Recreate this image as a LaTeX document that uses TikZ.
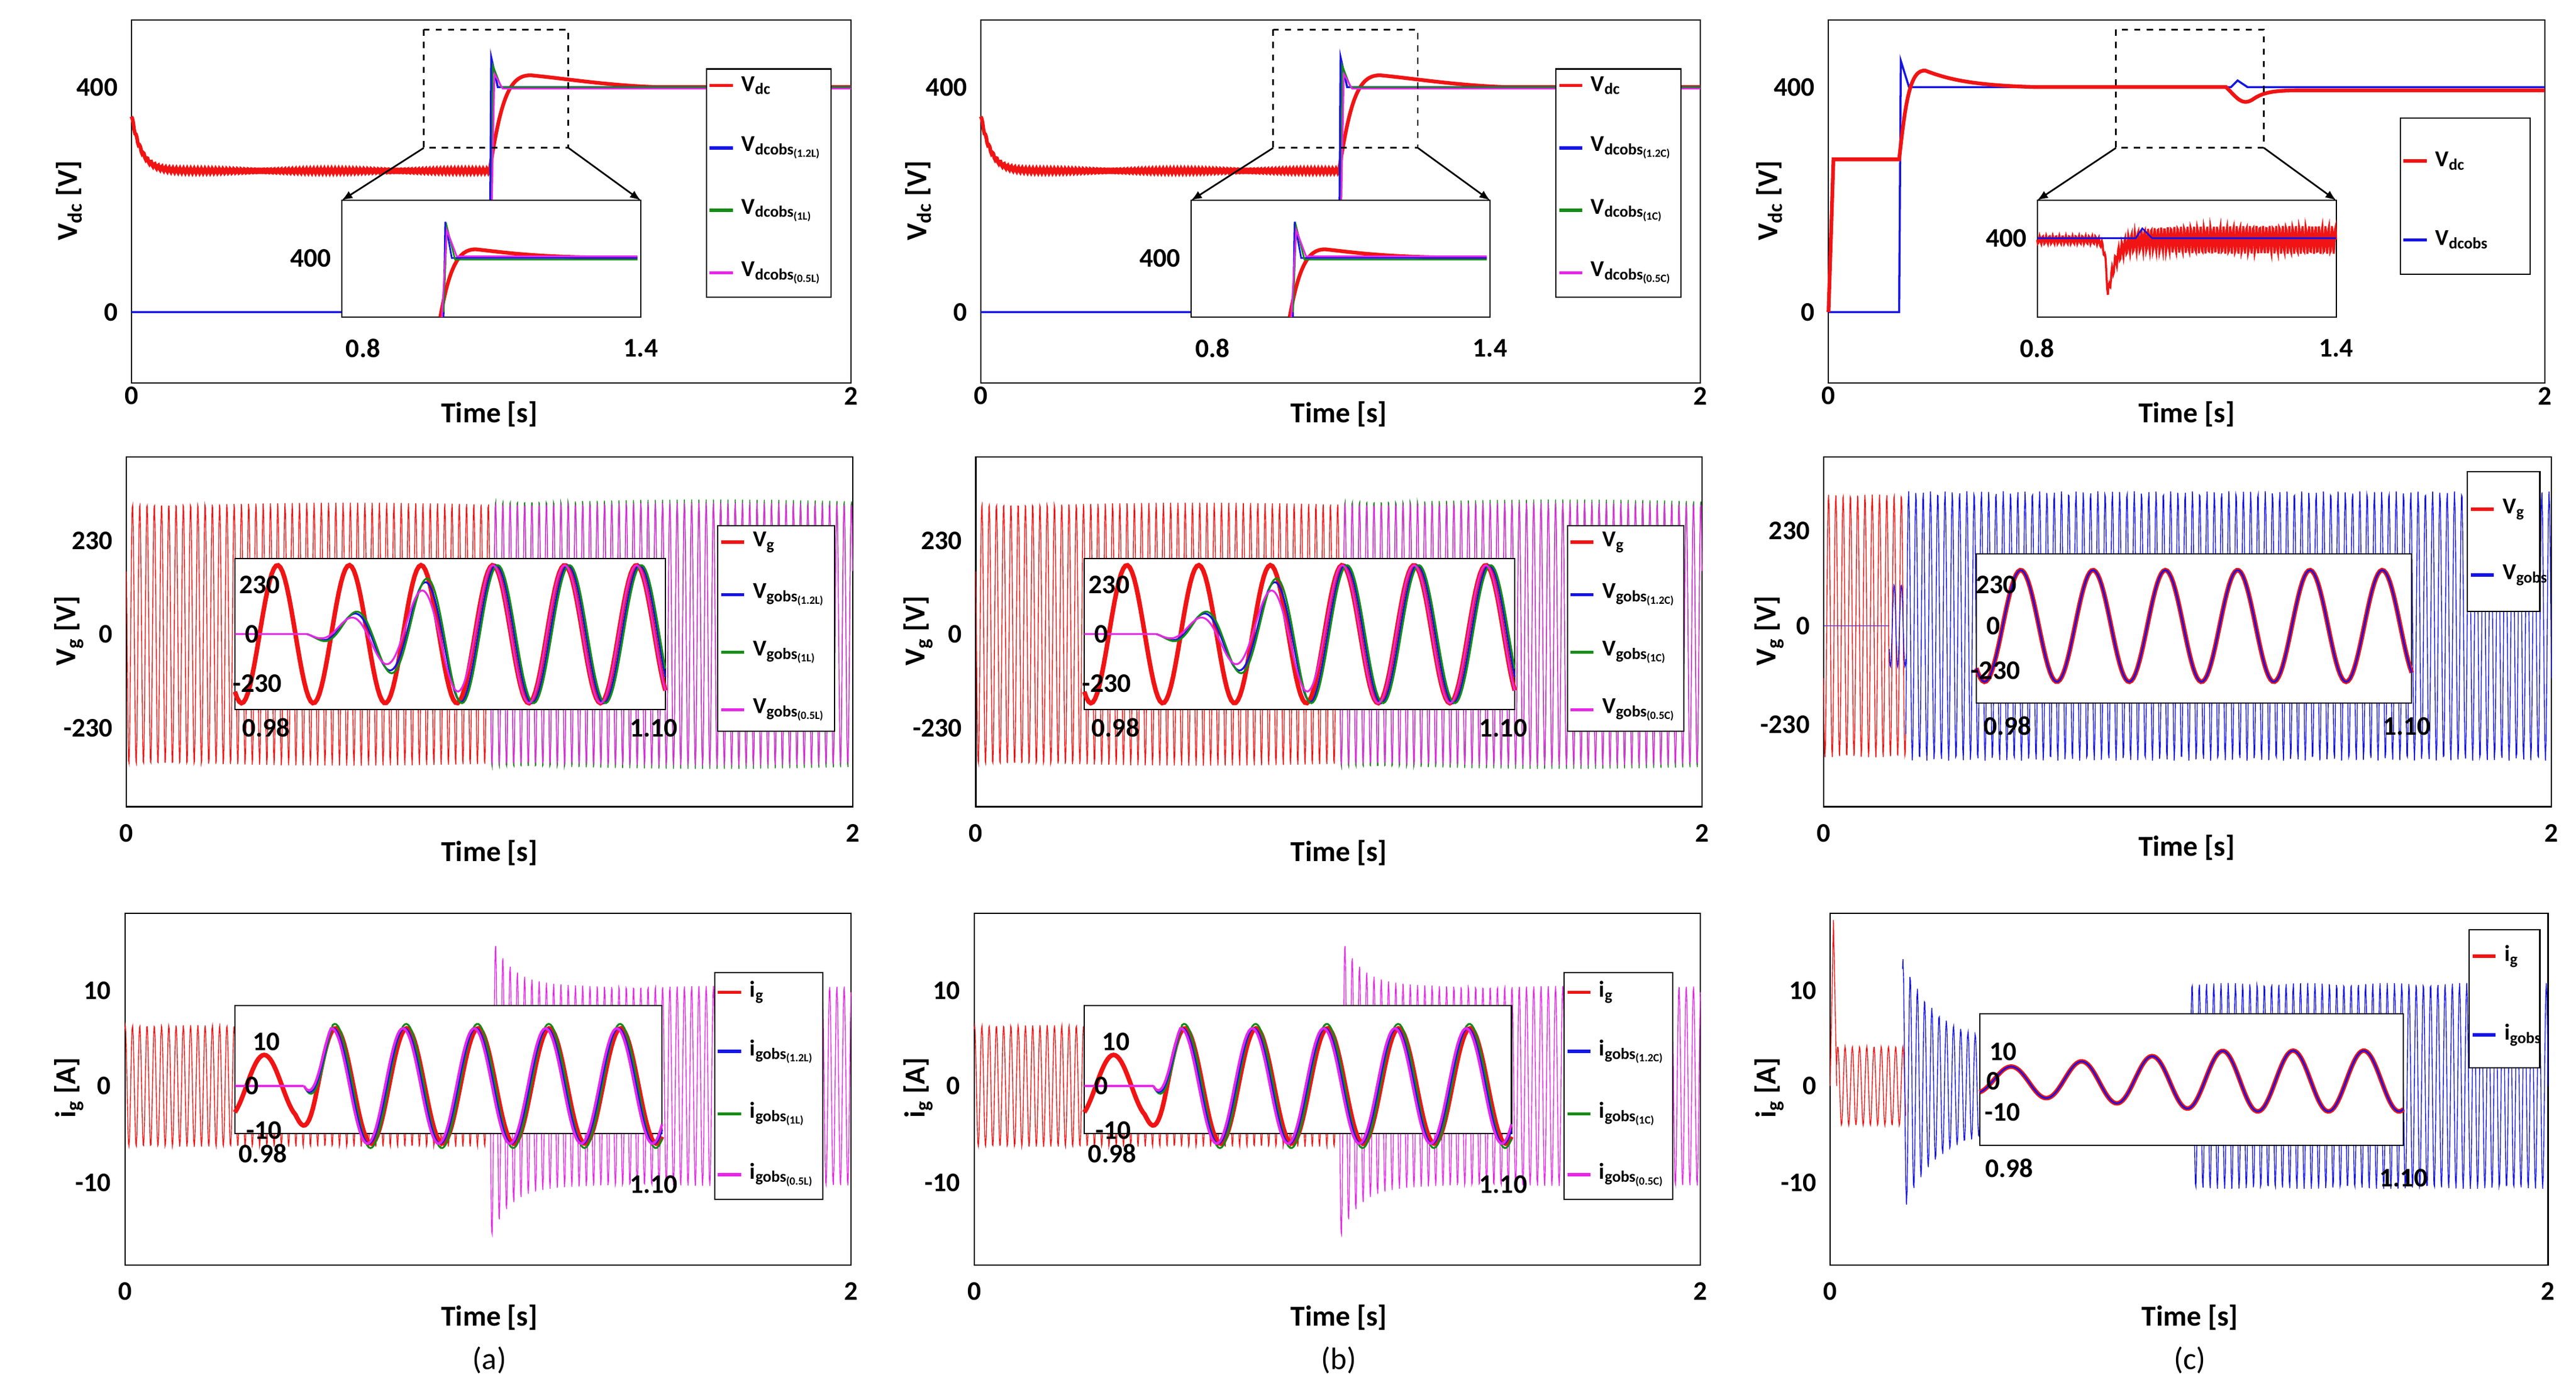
\documentclass[tikz,border=0pt]{standalone}
\usepackage{fontspec}
\setmainfont{Carlito}
\definecolor{mg}{RGB}{230,40,230}
\definecolor{gr}{RGB}{20,140,20}
\definecolor{bl}{RGB}{20,20,230}
\definecolor{rd}{RGB}{240,20,20}
\tikzset{ax/.style={draw=black,line width=0.6pt},
 lg/.style={draw=black,fill=white,line width=0.6pt},
 lab/.style={font=\fontsize{14}{16}\selectfont\bfseries},
 tk/.style={font=\fontsize{13}{15}\selectfont\bfseries},
 sm/.style={font=\fontsize{11}{13}\selectfont\bfseries,anchor=west},
 dz/.style={dashed,line width=0.8pt}}
\newcommand\lent[4]{% x y color text
 \draw[#3,line width=1.6pt] (#1,#2) -- ++(14,0);
 \node[sm] at (#1+15,#2) {#4};}
\newcommand\colab[3]{%
\begin{scope}[shift={(#1,0)}]
% ---------- row 1
\draw[ax] (80,12) rectangle (518,233);
\draw[rd,line width=1.8pt] plot[domain=80:298,samples=400] (\x,{104-34*exp(-(\x-80)/6)+1.2*sin(163.6*mod(\x,2.2))});
\draw[rd,line width=1.8pt] (298,104) .. controls (305,60) and (310,44) .. (325,46) .. controls (345,48) and (370,52) .. (400,53) -- (518,53);
\draw[bl,line width=1pt] (80,190) -- (298,190) -- (299,35) -- (303,53) -- (518,53);
\draw[gr,line width=0.8pt] (299,190) -- (300,40) -- (305,53) -- (518,53);
\draw[mg,line width=0.8pt] (298,190) -- (301,45) -- (306,54) -- (518,54);
\node[tk,anchor=east] at (76,53) {400};
\node[tk,anchor=east] at (76,190) {0};
\node[lab,rotate=90] at (42,122) {V\textsubscript{dc} [V]};
\draw[dz] (258,18) rectangle (346,90);
\draw[ax,fill=white] (208,122) rectangle (390,193);
\draw[-latex,line width=0.8pt] (258,90) -- (208,122);
\draw[-latex,line width=0.8pt] (346,90) -- (390,122);
\draw[rd,line width=1.8pt] (268,193) .. controls (274,160) and (280,150) .. (292,152) .. controls (310,154) and (330,157) .. (388,157);
\draw[bl,line width=0.8pt] (270,193) -- (271,135) -- (275,157) -- (388,157);
\draw[gr,line width=0.8pt] (270,190) -- (272,138) -- (277,158) -- (388,158);
\draw[mg,line width=0.8pt] (269,193) -- (272,140) -- (278,156) -- (388,156);
\node[tk,anchor=east] at (206,157) {400};
\node[tk] at (221,212) {0.8};\node[tk] at (390,212) {1.4};
\node[tk] at (80,241) {0};\node[tk] at (518,241) {2};
\node[lab] at (298,252) {Time [s]};
\draw[lg] (430,42) rectangle (506,181);
\lent{432}{52}{rd}{V\textsubscript{dc}}
\lent{432}{90}{bl}{V\textsubscript{dcobs\textsubscript{(1.2#2)}}}
\lent{432}{128}{gr}{V\textsubscript{dcobs\textsubscript{(1#2)}}}
\lent{432}{166}{mg}{V\textsubscript{dcobs\textsubscript{(0.5#2)}}}
% ---------- row 2
\draw[ax] (77,278) rectangle (519,491);
\draw[rd,line width=0.4pt] plot[domain=77:298,samples=700] (\x,{386-80*sin(81.45*mod(\x,4.42))});
\draw[gr,line width=0.4pt] plot[domain=298:519,samples=700] (\x,{386-82*sin(81.45*mod(\x,4.42))});
\draw[mg,line width=0.4pt] plot[domain=298:519,samples=700] (\x,{386-80*sin(81.45*mod(\x,4.42))});
\node[tk,anchor=east] at (73,329) {230};
\node[tk,anchor=east] at (73,386) {0};
\node[tk,anchor=east] at (73,443) {-230};
\node[lab,rotate=90] at (42,384) {V\textsubscript{g} [V]};
\draw[ax,fill=white] (143,340) rectangle (405,432);
\draw[rd,line width=2.2pt] plot[domain=143:405,samples=200] (\x,{386-42*sin(8.238*(\x-158))});
\draw[mg,line width=0.9pt] (143,386) -- (187,386);
\draw[bl,line width=0.9pt] plot[domain=187:405,samples=200] (\x,{386-42*min(1,(\x-187)/95)*sin(8.238*(\x-160))});
\draw[gr,line width=0.9pt] plot[domain=187:405,samples=200] (\x,{386-42*min(1,(\x-187)/90)*sin(8.238*(\x-161))});
\draw[mg,line width=0.9pt] plot[domain=187:405,samples=200] (\x,{386-42*min(1,(\x-187)/110)*sin(8.238*(\x-158))});
\node[tk,anchor=east] at (175,356) {230};
\node[tk,anchor=east] at (162,386) {0};
\node[tk,anchor=east] at (176,416) {-230};
\node[tk] at (162,443) {0.98};\node[tk] at (398,443) {1.10};
\node[tk] at (77,507) {0};\node[tk] at (519,507) {2};
\node[lab] at (298,519) {Time [s]};
\draw[lg] (437,320) rectangle (508,445);
\lent{439}{330}{rd}{V\textsubscript{g}}
\lent{439}{362}{bl}{V\textsubscript{gobs\textsubscript{(1.2#2)}}}
\lent{439}{397}{gr}{V\textsubscript{gobs\textsubscript{(1#2)}}}
\lent{439}{432}{mg}{V\textsubscript{gobs\textsubscript{(0.5#2)}}}
% ---------- row 3
\draw[ax] (76,556) rectangle (518,770);
\draw[rd,line width=0.4pt] plot[domain=76:298,samples=700] (\x,{661-37*sin(81.45*mod(\x,4.42))});
\draw[mg,line width=0.4pt] plot[domain=298:518,samples=700] (\x,{661-5.8*(10.5+6*exp(-(\x-298)/12))*sin(81.45*mod(\x,4.42))});
\node[tk,anchor=east] at (72,603) {10};
\node[tk,anchor=east] at (72,661) {0};
\node[tk,anchor=east] at (72,720) {-10};
\node[lab,rotate=90] at (42,662) {i\textsubscript{g} [A]};
\draw[ax,fill=white] (143,612) rectangle (403,690);
\draw[rd,line width=2.2pt] plot[domain=143:403,samples=220] (\x,{661-2.7*(7+6*min(1,max(0,(\x-180)/12)))*sin(8.295*(\x-150+min(40,max(0,\x-160))*0.0))});
\draw[gr,line width=0.9pt] plot[domain=185:403,samples=200] (\x,{661-2.7*min(14,(\x-185)*0.8)*sin(8.295*(\x-193))});
\draw[bl,line width=0.9pt] plot[domain=185:403,samples=200] (\x,{661-2.7*min(13,(\x-185)*0.8)*sin(8.295*(\x-192))});
\draw[mg,line width=1.2pt] (143,661) -- (185,661);
\draw[mg,line width=1.2pt] plot[domain=185:403,samples=200] (\x,{661-2.7*min(13,(\x-185)*0.8)*sin(8.295*(\x-191))});
\node[tk,anchor=east] at (175,634) {10};
\node[tk,anchor=east] at (162,661) {0};
\node[tk,anchor=east] at (176,688) {-10};
\node[tk] at (160,702) {0.98};\node[tk] at (398,721) {1.10};
\node[tk] at (76,786) {0};\node[tk] at (518,786) {2};
\node[lab] at (298,802) {Time [s]};
\draw[lg] (435,592) rectangle (501,730);
\lent{437}{604}{rd}{i\textsubscript{g}}
\lent{437}{640}{bl}{i\textsubscript{gobs\textsubscript{(1.2#2)}}}
\lent{437}{678}{gr}{i\textsubscript{gobs\textsubscript{(1#2)}}}
\lent{437}{715}{mg}{i\textsubscript{gobs\textsubscript{(0.5#2)}}}
\node[font=\fontsize{15}{17}\selectfont] at (298,828) {#3};
\end{scope}}
\begin{document}
\begin{tikzpicture}[x=0.02797cm,y=-0.02797cm]
\useasboundingbox[fill=white] (0,0) rectangle (1568,847);
\colab{0}{L}{(a)}
\colab{517}{C}{(b)}
% ================= column c
% row 1
\draw[ax] (1113,12) rectangle (1549,233);
\draw[bl,line width=1pt] (1113,190) -- (1156,190) -- (1157,37) -- (1162,53) -- (1358,53) -- (1362,49) -- (1368,53) -- (1549,53);
\draw[rd,line width=1.8pt] (1113,190) -- (1116,97) -- (1156,97) .. controls (1160,60) and (1163,42) .. (1172,43) .. controls (1185,48) and (1200,52) .. (1240,53) -- (1355,53) .. controls (1362,60) and (1365,65) .. (1372,60) .. controls (1378,56) and (1385,55) .. (1400,55) -- (1549,55);
\node[tk,anchor=east] at (1109,53) {400};
\node[tk,anchor=east] at (1109,190) {0};
\node[lab,rotate=90] at (1077,122) {V\textsubscript{dc} [V]};
\draw[dz] (1288,18) rectangle (1378,90);
\draw[ax,fill=white] (1240,122) rectangle (1422,193);
\draw[-latex,line width=0.8pt] (1288,90) -- (1240,122);
\draw[-latex,line width=0.8pt] (1378,90) -- (1422,122);
\draw[rd,line width=1pt] plot[domain=1240:1422,samples=500] (\x,{146+34*exp(-abs(\x-1283)/(\x>1283?5:1.5))+(2.5+6*max(0,1-exp(-(\x-1280)/20)))*sin(180*mod(\x,2))});
\draw[bl,line width=0.8pt] (1240,145) -- (1300,145) -- (1304,139) -- (1310,145) -- (1422,145);
\node[tk,anchor=east] at (1238,145) {400};
\node[tk] at (1240,212) {0.8};\node[tk] at (1422,212) {1.4};
\node[tk] at (1113,241) {0};\node[tk] at (1549,241) {2};
\node[lab] at (1331,252) {Time [s]};
\draw[lg] (1461,72) rectangle (1540,167);
\lent{1463}{98}{rd}{V\textsubscript{dc}}
\lent{1463}{146}{bl}{V\textsubscript{dcobs}}
% row 2
\draw[ax] (1110,278) rectangle (1553,491);
\draw[bl,line width=0.4pt] (1110,381) -- (1150,381);
\draw[rd,line width=0.4pt] plot[domain=1110:1160,samples=180] (\x,{381-80*sin(81.3*mod(\x,4.43))});
\draw[bl,line width=0.4pt] plot[domain=1150:1160,samples=40] (\x,{381-25*sin(81.3*mod(\x,4.43))});
\draw[bl,line width=0.4pt] plot[domain=1160:1553,samples=1100] (\x,{381-82*sin(81.3*mod(\x,4.43))});
\node[tk,anchor=east] at (1106,323) {230};
\node[tk,anchor=east] at (1106,381) {0};
\node[tk,anchor=east] at (1106,441) {-230};
\node[lab,rotate=90] at (1077,384) {V\textsubscript{g} [V]};
\draw[ax,fill=white] (1203,337) rectangle (1468,428);
\draw[rd,line width=2.2pt] plot[domain=1203:1468,samples=220] (\x,{381-34*sin(8.18*(\x-1219))});
\draw[bl,line width=0.8pt] plot[domain=1203:1468,samples=220] (\x,{381-34*sin(8.18*(\x-1219))});
\node[tk,anchor=east] at (1232,356) {230};
\node[tk,anchor=east] at (1222,381) {0};
\node[tk,anchor=east] at (1234,408) {-230};
\node[tk] at (1222,442) {0.98};\node[tk] at (1465,442) {1.10};
\node[tk] at (1110,507) {0};\node[tk] at (1553,507) {2};
\node[lab] at (1331,516) {Time [s]};
\draw[lg] (1502,287) rectangle (1546,372);
\lent{1504}{310}{rd}{V\textsubscript{g}}
\lent{1504}{350}{bl}{V\textsubscript{gobs}}
% row 3
\draw[ax] (1114,556) rectangle (1551,770);
\draw[rd,line width=0.4pt] (1114,661) -- (1116,560) -- (1118,661);
\draw[rd,line width=0.4pt] plot[domain=1118:1160,samples=150] (\x,{661-24*sin(81.8*mod(\x,4.4))});
\draw[bl,line width=0.4pt] plot[domain=1158:1333,samples=500] (\x,{661-5.8*(4.5+9*exp(-(\x-1158)/20))*sin(81.8*mod(\x,4.4))});
\draw[bl,line width=0.4pt] plot[domain=1333:1551,samples=600] (\x,{661-5.8*10.8*sin(81.8*mod(\x,4.4))});
\node[tk,anchor=east] at (1110,603) {10};
\node[tk,anchor=east] at (1110,661) {0};
\node[tk,anchor=east] at (1110,720) {-10};
\node[lab,rotate=90] at (1077,662) {i\textsubscript{g} [A]};
\draw[ax,fill=white] (1205,617) rectangle (1463,697);
\draw[rd,line width=2.2pt] plot[domain=1205:1463,samples=220] (\x,{658-1.85*(4+6*min(1,(\x-1205)/150))*sin(8.37*(\x-1213))});
\draw[bl,line width=0.8pt] plot[domain=1205:1463,samples=220] (\x,{658-1.85*(4+6*min(1,(\x-1205)/150))*sin(8.37*(\x-1213))});
\node[tk,anchor=east] at (1232,640) {10};
\node[tk,anchor=east] at (1222,658) {0};
\node[tk,anchor=east] at (1234,677) {-10};
\node[tk] at (1223,711) {0.98};\node[tk] at (1463,717) {1.10};
\node[tk] at (1114,786) {0};\node[tk] at (1551,786) {2};
\node[lab] at (1333,802) {Time [s]};
\draw[lg] (1503,566) rectangle (1546,650);
\lent{1505}{582}{rd}{i\textsubscript{g}}
\lent{1505}{630}{bl}{i\textsubscript{gobs}}
\node[font=\fontsize{15}{17}\selectfont] at (1333,828) {(c)};
\end{tikzpicture}
\end{document}
